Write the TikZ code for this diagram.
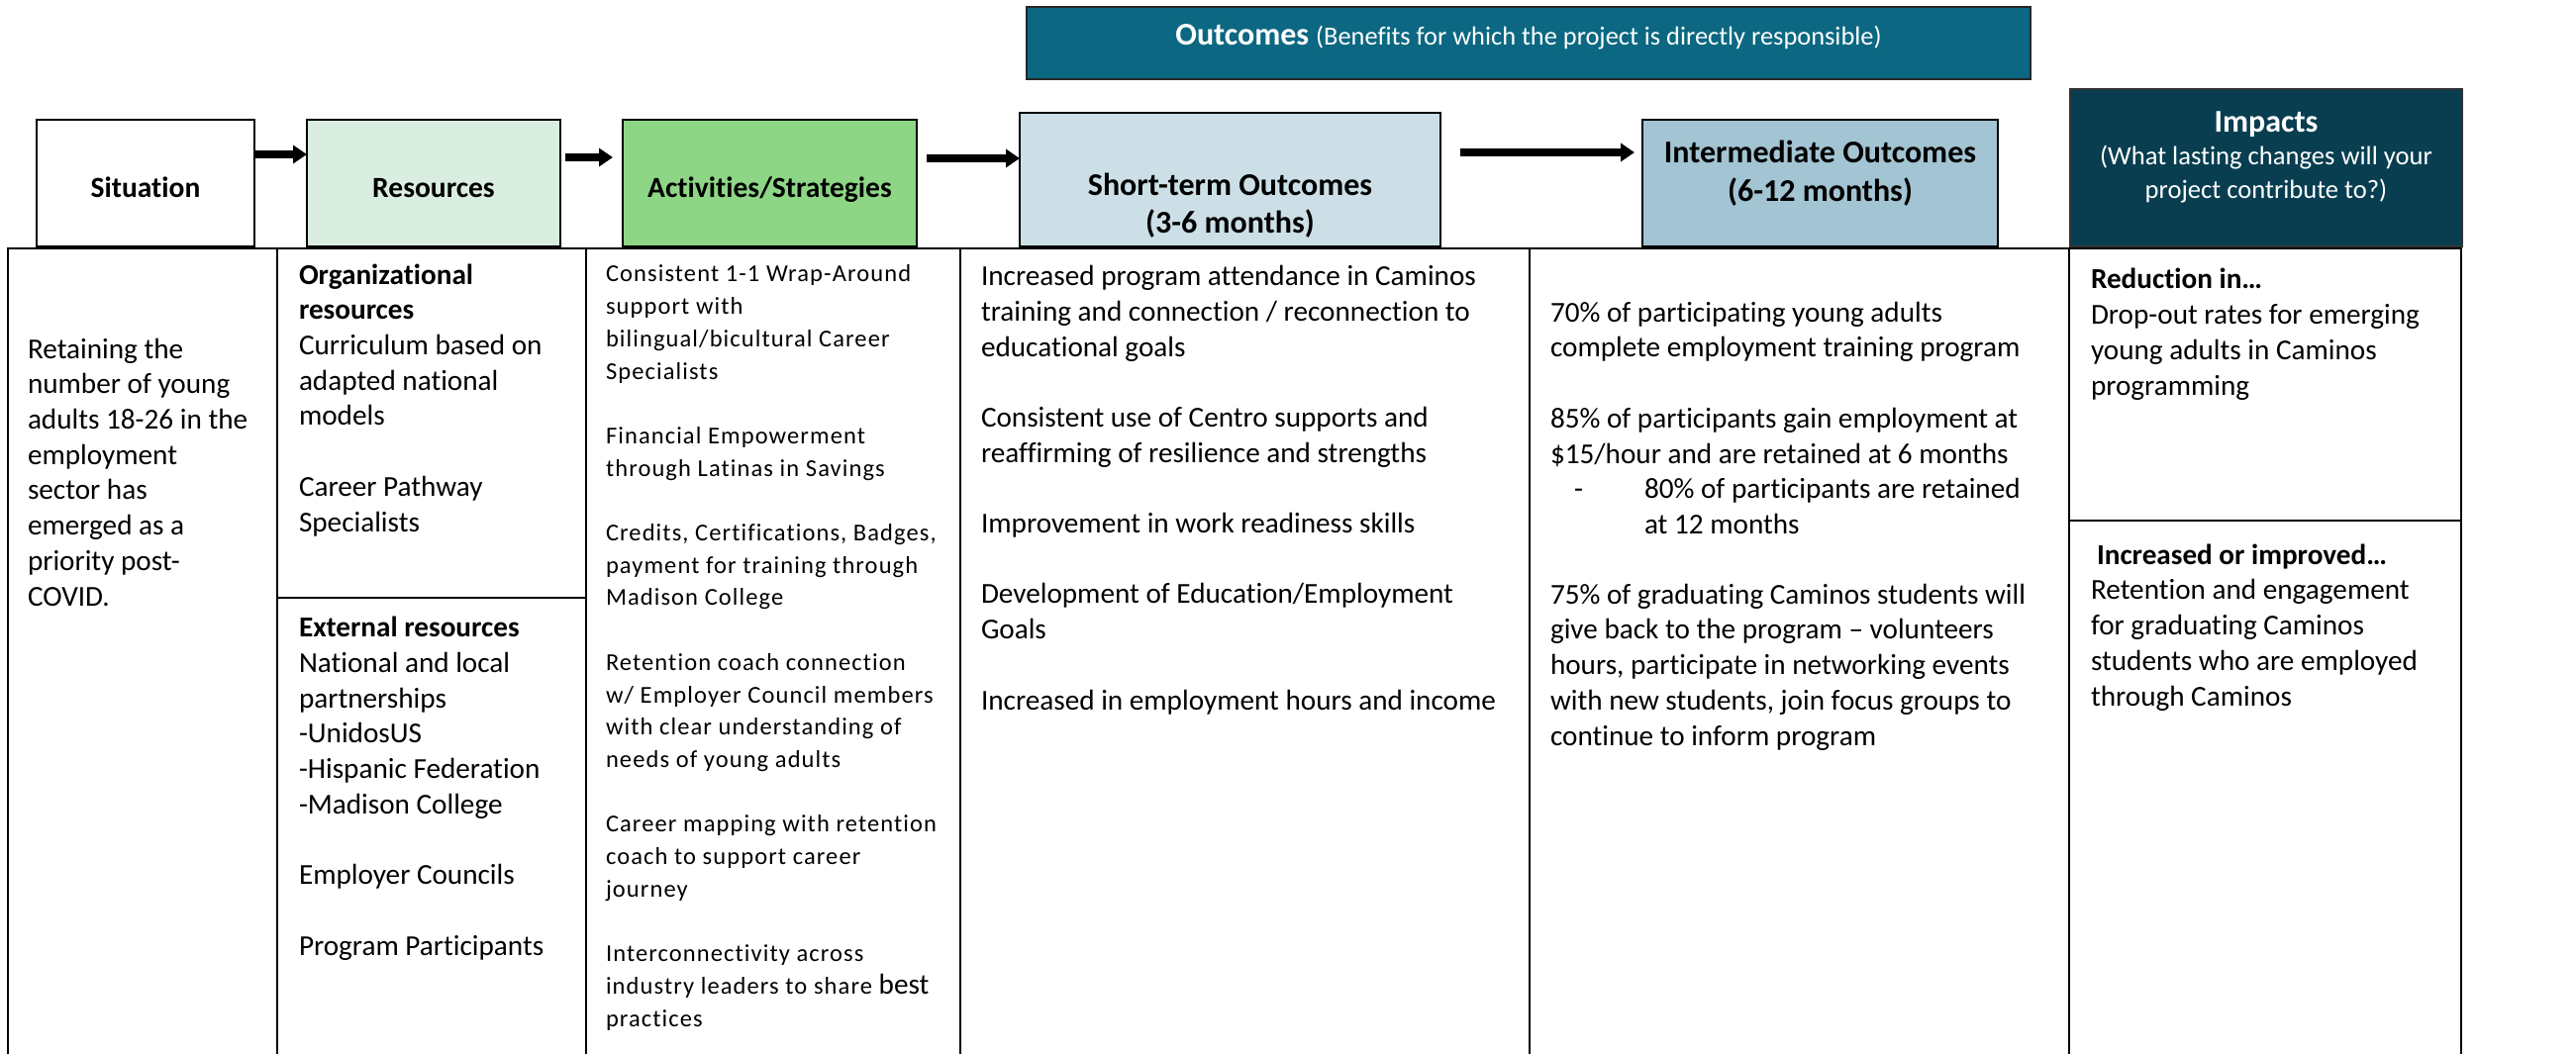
\documentclass[tikz,border=0pt]{standalone}
\usepackage{fontspec}
\setmainfont{Carlito}[Ligatures=NoCommon]
\newfontfamily\actfont[LetterSpace=4.5,Ligatures=NoCommon]{Carlito}
\usetikzlibrary{arrows.meta}

\definecolor{outbar}{RGB}{12,104,130}
\definecolor{impbox}{RGB}{8,62,80}
\definecolor{resfill}{RGB}{217,237,224}
\definecolor{actfill}{RGB}{141,214,134}
\definecolor{stfill}{RGB}{204,223,230}
\definecolor{imfill}{RGB}{162,196,211}

\newcommand\fsBody{\fontsize{29.2}{35.7}\selectfont}
\newcommand\fsHead{\fontsize{29.5}{36}\selectfont\bfseries}
\newcommand\fsAct{\actfont\fontsize{24.5}{32.7}\selectfont}

\begin{document}
\begin{tikzpicture}[x=1pt,y=-1pt,
  hbox/.style={draw=black, line width=2.2pt, inner sep=0pt, outer sep=0pt, font=\fsHead, text height=29pt, text depth=0pt},
  cell/.style={draw=black, line width=2pt, inner sep=0pt, outer sep=0pt},
  txt/.style={inner sep=0pt, outer sep=0pt, align=left, anchor=base west, font=\fsBody},
  ctxt/.style={inner sep=0pt, outer sep=0pt, align=center, anchor=base},
  blockarrow/.style={line width=8pt, -{Triangle[length=14pt,width=18pt]}},
]
% note: for multi-line nodes the base anchor is the baseline of the LAST line
\useasboundingbox (0,0) rectangle (2602,1065);
\clip (0,0) rectangle (2602,1065);
\fill[white] (0,0) rectangle (2602,1065);

% top outcomes bar
\node[hbox, fill=outbar, draw=black!85, line width=1.6pt, minimum width=1014pt, minimum height=73pt] (outc) at (1544,43.5) {};
\node[ctxt, text=white] (outct) at (1544,46) {{\fontsize{32}{38}\selectfont\bfseries Outcomes}\hspace{7pt}{\fontsize{26.4}{32}\selectfont(Benefits for which the project is directly responsible)}};

% header boxes
\node[hbox, minimum width=220pt, minimum height=128pt] (sit) at (147,185) {Situation};
\node[hbox, fill=resfill, minimum width=256pt, minimum height=128pt] (res) at (438,185) {Resources};
\node[hbox, fill=actfill, minimum width=297pt, minimum height=128pt] (act) at (777.5,185) {Activities/Strategies};
\node[hbox, fill=stfill, minimum width=425pt, minimum height=135pt] (st) at (1242.5,181.5) {};
\node[ctxt, font={\fontsize{32}{37.5}\selectfont\bfseries}] (stt) at (1242.5,235) {Short-term Outcomes\\(3-6 months)};
\node[hbox, fill=imfill, minimum width=359pt, minimum height=128pt] (im) at (1838.5,185) {};
\node[ctxt, font={\fontsize{32}{39}\selectfont\bfseries}] (imt) at (1838.5,203) {Intermediate Outcomes\\(6-12 months)};
\node[hbox, fill=impbox, draw=black!80, minimum width=396pt, minimum height=159pt] (imp) at (2289,169.5) {};
\node[ctxt, text=white, font={\fontsize{32}{38}\selectfont\bfseries}] (impt) at (2289,133) {Impacts};
\node[ctxt, text=white, font={\fontsize{26.6}{34}\selectfont}] (impq) at (2289,200) {(What lasting changes will your\\project contribute to?)};

% arrows
\draw[blockarrow] ([yshift=29pt]sit.east) -- ([yshift=29pt]res.west);
\draw[blockarrow, shorten <=5pt, shorten >=10pt] ([yshift=26pt]res.east) -- ([yshift=26pt]act.west);
\draw[blockarrow, shorten <=10pt] ([yshift=25pt]act.east) -- ([yshift=25pt]act.east -| st.west);
\draw[blockarrow, shorten <=20pt, shorten >=8pt] ([yshift=27.5pt]st.east) -- ([yshift=27.5pt]st.east -| im.west);

% table cells
\node[cell, minimum width=272pt, minimum height=829pt] (sitc) at (144,665.5) {};
\node[cell, minimum width=312pt, minimum height=353pt] (resa) at (436,427.5) {};
\node[cell, minimum width=312pt, minimum height=476pt] (resb) at (436,842) {};
\node[cell, minimum width=378pt, minimum height=829pt] (actc) at (781,665.5) {};
\node[cell, minimum width=575pt, minimum height=829pt] (stc) at (1257.5,665.5) {};
\node[cell, minimum width=545pt, minimum height=829pt] (imc) at (1817.5,665.5) {};
\node[cell, minimum width=396pt, minimum height=275pt] (impa) at (2288,388.5) {};
\node[cell, minimum width=396pt, minimum height=554pt] (impb) at (2288,803) {};

% texts (positions are last-line baselines)
\node[txt] (sittx) at (28,612) {Retaining the\\number of young\\adults 18-26 in the\\employment\\sector has\\emerged as a\\priority post-\\COVID.};

\node[txt] (resatx) at (302,537) {\textbf{Organizational}\\\textbf{resources}\\Curriculum based on\\adapted national\\models\\[35.7pt]Career Pathway\\Specialists};
\node[txt] (resbtx) at (302,965) {\textbf{External resources}\\National and local\\partnerships\\-UnidosUS\\-Hispanic Federation\\-Madison College\\[35.7pt]Employer Councils\\[35.7pt]Program Participants};

\node[txt, font=\fsAct] (acttx) at (612,1037) {Consistent 1-1 Wrap-Around\\support with\\bilingual/bicultural Career\\Specialists\\[32.7pt]Financial Empowerment\\through Latinas in Savings\\[32.7pt]Credits, Certifications, Badges,\\payment for training through\\Madison College\\[32.7pt]Retention coach connection\\w/ Employer Council members\\with clear understanding of\\needs of young adults\\[32.7pt]Career mapping with retention\\coach to support career\\journey\\[32.7pt]Interconnectivity across\\industry leaders to share {\normalfont\fsBody best}\\practices};

\node[txt] (sttx) at (991,717) {Increased program attendance in Caminos\\training and connection / reconnection to\\educational goals\\[35.7pt]Consistent use of Centro supports and\\reaffirming of resilience and strengths\\[35.7pt]Improvement in work readiness skills\\[35.7pt]Development of Education/Employment\\Goals\\[35.7pt]Increased in employment hours and income};

\node[txt] (imtxa) at (1566,468) {70\% of participating young adults\\complete employment training program\\[35.7pt]85\% of participants gain employment at\\\$15/hour and are retained at 6 months};
\node[txt] (imdash) at (1590,503) {-};
\node[txt] (imtxb) at (1661,539) {80\% of participants are retained\\at 12 months};
\node[txt] (imtxc) at (1566,753) {75\% of graduating Caminos students will\\give back to the program – volunteers\\hours, participate in networking events\\with new students, join focus groups to\\continue to inform program};

\node[txt] (imptxa) at (2112,399) {\textbf{Reduction in…}\\Drop-out rates for emerging\\young adults in Caminos\\programming};
\node[txt] (imptxb) at (2112,713) {\hspace*{6pt}\textbf{Increased or improved…}\\Retention and engagement\\for graduating Caminos\\students who are employed\\through Caminos};
\end{tikzpicture}
\end{document}
